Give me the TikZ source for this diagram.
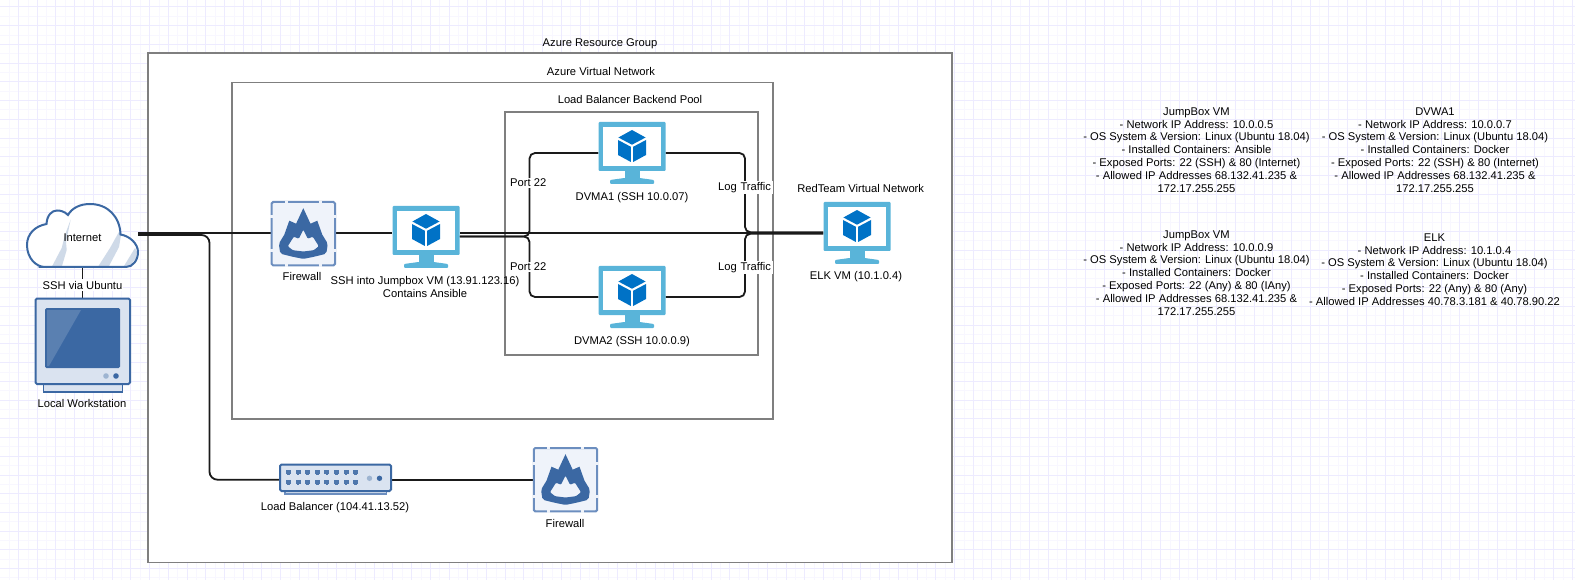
\documentclass[tikz,border=0pt]{standalone}
\usepackage{fontspec}
\setmainfont{Liberation Sans}
\definecolor{gridmajor}{HTML}{EDEBFF}
\definecolor{gridminor}{HTML}{F8F7FF}
\definecolor{boxline}{HTML}{7F7F7F}
\definecolor{wirecol}{HTML}{1A1A1A}
\definecolor{vmframe}{HTML}{59B4D9}
\definecolor{vmcube}{HTML}{0072C6}
\definecolor{azdark}{HTML}{3B68A3}
\definecolor{azedge}{HTML}{6C8EBF}
\definecolor{azbody}{HTML}{DAE3F0}
\definecolor{azpale}{HTML}{EFF3FA}
\definecolor{azstripe}{HTML}{CFDAE8}
\tikzset{
  x=1pt,y=-1pt,
  region/.style={draw=boxline,line width=1.9pt,fill=white},
  wire/.style={draw=wirecol,line width=1.8pt,rounded corners=5.5pt},
  lbl/.style={font=\fontsize{11.2}{12.8}\selectfont,text=black,align=center,inner sep=0pt},
  vmbox/.style={inner sep=0pt,minimum width=67pt,minimum height=62pt},
  fwbox/.style={inner sep=0pt,minimum width=65pt,minimum height=65pt},
  vmicon/.pic={
    \fill[vmframe,rounded corners=1pt] (-33.5,-31) rectangle (33.5,18);
    \fill[white] (-28.8,-26.3) rectangle (28.8,13.3);
    \fill[vmframe] (-7.5,18) rectangle (7.5,27);
    \fill[vmframe,rounded corners=1pt] (-22,27) -- (-7.5,25) -- (7.5,25) -- (22,27) -- (22,31) -- (-22,31) -- cycle;
    \fill[vmcube] (0,-23) -- (13.6,-15.5) -- (0,-8.3) -- (-13.6,-15.5) -- cycle;
    \fill[vmcube] (-14,-13) -- (-1.1,-6.2) -- (-1.1,9) -- (-14,2) -- cycle;
    \fill[vmcube] (14,-13) -- (1.1,-6.2) -- (1.1,9) -- (14,2) -- cycle;
  },
  fwicon/.pic={
    \draw[azedge,fill=azpale,line width=2pt,rounded corners=1.5pt] (-31.7,-31.7) rectangle (31.7,31.7);
    \foreach \s in {-1,1}{
      \draw[azpale,line width=2.6pt] (\s*16.7-1.5,-31.7) -- (\s*16.7+1.5,-31.7);
      \draw[azpale,line width=2.6pt] (\s*16.7-1.5,31.7) -- (\s*16.7+1.5,31.7);
      \draw[azpale,line width=2.6pt] (-31.7,\s*16.7-1.5) -- (-31.7,\s*16.7+1.5);
      \draw[azpale,line width=2.6pt] (31.7,\s*16.7-1.5) -- (31.7,\s*16.7+1.5);
    }
    \fill[azdark,even odd rule]
      (0,-25.5) -- (-7.2,-10) -- (-14,-13) -- (-19,1) [rounded corners=2pt] -- (-24.5,10) -- (-23,20) -- (-11,23) -- (0,25.2) -- (11,23) -- (23,20) -- (24.5,10) [sharp corners] -- (19,1) -- (14,-13) -- (7.2,-10) -- cycle
      [rounded corners=1pt] (0,-4) -- (-4.5,5) -- (-9.5,3) -- (-15.5,12.5) -- (-10.5,16.5) -- (0,17.8) -- (10.5,16.5) -- (15.5,12.5) -- (9.5,3) -- (4.5,5) -- cycle;
  },
}
\begin{document}
\begin{tikzpicture}[x=1pt,y=-1pt]
\useasboundingbox (0,0) rectangle (1575,580);
\fill[white] (0,0) rectangle (1575,580);
% grid
\foreach \k in {0,...,85}{
  \pgfmathsetmacro\gx{18.72*\k+9.36}
  \draw[gridminor,line width=1pt] (\gx,0) -- (\gx,580);
}
\foreach \k in {0,...,31}{
  \pgfmathsetmacro\gy{18.72*\k-2.36}
  \draw[gridminor,line width=1pt] (0,\gy) -- (1575,\gy);
}
\foreach \k in {1,...,85}{
  \pgfmathsetmacro\gx{18.72*\k-0.2}
  \draw[gridmajor,line width=1pt] (\gx,0) -- (\gx,580);
}
\foreach \k in {0,...,31}{
  \pgfmathsetmacro\gy{18.72*\k+7}
  \draw[gridmajor,line width=1pt] (0,\gy) -- (1575,\gy);
}
% regions
\draw[region] (148.3,53) rectangle (952,562.5);
\draw[region] (232.3,82.5) rectangle (772.7,419);
\draw[region] (505,111.7) rectangle (758,355);
% anchors for connectors
\node[inner sep=0pt,minimum width=111pt,minimum height=63pt] (internet) at (82.5,235.5) {};
\node[inner sep=0pt,minimum width=96pt,minimum height=94pt] (station) at (82.5,345) {};
\node[fwbox] (fw1) at (303.3,233.7) {};
\node[fwbox] (fw2) at (565.5,479.7) {};
\node[vmbox] (jump) at (426,237) {};
\node[vmbox] (dvma1) at (632,153) {};
\node[vmbox] (dvma2) at (632,297) {};
\node[vmbox] (elk) at (857,233) {};
\node[inner sep=0pt,minimum width=113pt,minimum height=30pt] (lb) at (335.5,479.7) {};
% connectors
\draw[wire] (internet.south) -- (station.north);
\draw[wire,rounded corners=0pt] ([yshift=2.5pt]internet.east) -- ([yshift=.7pt]fw1.west);
\draw[wire,rounded corners=8pt] ([yshift=0.5pt]internet.east) -- (209.5,235) -- (209.5,479.7) -- (lb.west);
\draw[wire,rounded corners=0pt] ([yshift=.7pt]fw1.east) -- ([yshift=4pt]jump.west);
\draw[wire,rounded corners=0pt] (lb.east) -- (fw2.west);
\draw[wire,rounded corners=0pt] ([yshift=4pt]jump.east) -- (elk.west);
\draw[wire] ([yshift=.5pt]jump.east) -- (529.5,236.5) -- (529.5,153) -- (dvma1.west);
\draw[wire] ([yshift=.5pt]jump.east) -- (529.5,236.5) -- (529.5,297) -- (dvma2.west);
\draw[wire] (dvma1.east) -- (745,153) -- (745,232.3) -- ([yshift=.7pt]elk.west);
\draw[wire] (dvma2.east) -- (745,297) -- (745,233.7) -- ([yshift=-.7pt]elk.west);
% cloud
\fill[white] (38.5,267) -- (126,267) .. controls (133,267) and (138,260) .. (138,252) .. controls (138,244) and (130,236) .. (120.5,234.5) .. controls (120,217) and (108,204) .. (90,204) .. controls (80,204) and (72,208) .. (68,215) .. controls (64,211) and (60,210.5) .. (57,210.5) .. controls (52,210.5) and (47,215) .. (46.5,224) .. controls (35,226) and (27,234) .. (27,245) .. controls (27,258) and (36,267) .. (45,267) -- cycle;
\fill[azstripe] (51.7,267) -- (61.7,248) -- (65,235) -- (70.7,219.5) -- (66,242) -- (66.7,250) -- (61.7,267) -- cycle;
\fill[azstripe] (98.5,266) -- (110,248) -- (120,230) -- (121,235) -- (119,247) -- (109,266) -- cycle;
\fill[azstripe] (124,266) -- (135,248) -- (137,252) -- (136,258) -- (130,266) -- cycle;
\draw[azdark,line width=2pt] (38.5,267) -- (126,267) .. controls (133,267) and (138,260) .. (138,252) .. controls (138,244) and (130,236) .. (120.5,234.5) .. controls (120,217) and (108,204) .. (90,204) .. controls (80,204) and (72,208) .. (68,215) .. controls (64,211) and (60,210.5) .. (57,210.5) .. controls (52,210.5) and (47,215) .. (46.5,224) .. controls (35,226) and (27,234) .. (27,245) .. controls (27,258) and (36,267) .. (45,267) -- cycle;
% workstation
\draw[azdark,line width=1.8pt,fill=azbody] (43.5,384) rectangle (122.5,392);
\draw[azdark,line width=2pt,fill=azbody,rounded corners=1.5pt] (35.5,298.5) rectangle (130,384);
\fill[azdark,rounded corners=1.5pt] (45,308) rectangle (120,368);
\fill[white,opacity=.16] (47,310) -- (81,310) -- (49,366) -- (47,366) -- cycle;
\fill[azdark!50!white] (106,376) circle (2.8);
\fill[azdark] (116,376) circle (2.8);
% load balancer
\draw[azedge,line width=1.5pt,fill=azbody] (285,490) rectangle (386.5,494);
\draw[azdark,line width=2pt,fill=azbody,rounded corners=1.5pt] (280,464.5) rectangle (391,491);
\foreach \i in {0,...,7}{
  \pgfmathsetmacro\px{288.5+9.6*\i}
  \foreach \py in {472.7,482.5}{
    \fill[azdark!90!white] (\px-2.5,\py-2.5) rectangle (\px+2.5,\py+1);
    \fill[azdark!90!white] (\px-1.3,\py+1) rectangle (\px+1.3,\py+2.6);
  }
}
\fill[azdark!50!white] (369.5,478.3) circle (2.7);
\fill[azdark] (379.5,478.3) circle (2.7);
% icons
\pic at (fw1) {fwicon};
\pic at (fw2) {fwicon};
\pic at (jump) {vmicon};
\pic at (dvma1) {vmicon};
\pic at (dvma2) {vmicon};
\pic at (elk) {vmicon};
% labels
\node[lbl] (tInternet) at (82.5,238) {Internet};
\node[lbl,fill=white,inner xsep=1pt,inner ysep=1.5pt] (tSsh) at (82.5,285) {SSH via Ubuntu};
\node[lbl] (tStation) at (82,403) {Local Workstation};
\node[lbl] (tRg) at (600,43.5) {Azure Resource Group};
\node[lbl] (tVnet) at (601,71.5) {Azure Virtual Network};
\node[lbl] (tPool) at (630,99.5) {Load Balancer Backend Pool};
\node[lbl] (tFw1) at (302,276) {Firewall};
\node[lbl] (tFw2) at (565,523) {Firewall};
\node[lbl] (tJump) at (425,287) {SSH into Jumpbox VM (13.91.123.16)\\Contains Ansible};
\node[lbl] (tD1) at (632,198) {DVMA1 (SSH 10.0.07)};
\node[lbl] (tD2) at (632,342) {DVMA2 (SSH 10.0.0.9)};
\node[lbl,fill=white,inner ysep=1pt] (tP1) at (528.3,183) {Port 22};
\node[lbl,fill=white,inner ysep=1pt] (tP2) at (528.3,267) {Port 22};
\node[lbl,fill=white,text width=62pt,align=right,inner xsep=2pt,inner ysep=1.5pt] (tL1) at (740,187.5) {Log Traffic};
\node[lbl,fill=white,text width=62pt,align=right,inner xsep=2pt,inner ysep=1.5pt] (tL2) at (740,267.5) {Log Traffic};
\node[lbl] (tRed) at (860.7,188) {RedTeam Virtual Network};
\node[lbl] (tElk) at (856,277) {ELK VM (10.1.0.4)};
\node[lbl] (tLb) at (335,508) {Load Balancer (104.41.13.52)};
\node[lbl] (info1) at (1196.5,150) {JumpBox VM\\- Network IP Address: 10.0.0.5\\- OS System \& Version: Linux (Ubuntu 18.04)\\- Installed Containers: Ansible\\- Exposed Ports: 22 (SSH) \& 80 (Internet)\\- Allowed IP Addresses 68.132.41.235 \&\\172.17.255.255};
\node[lbl] (info2) at (1435,150) {DVWA1\\- Network IP Address: 10.0.0.7\\- OS System \& Version: Linux (Ubuntu 18.04)\\- Installed Containers: Docker\\- Exposed Ports: 22 (SSH) \& 80 (Internet)\\- Allowed IP Addresses 68.132.41.235 \&\\172.17.255.255};
\node[lbl] (info3) at (1196.5,273) {JumpBox VM\\- Network IP Address: 10.0.0.9\\- OS System \& Version: Linux (Ubuntu 18.04)\\- Installed Containers: Docker\\- Exposed Ports: 22 (Any) \& 80 (IAny)\\- Allowed IP Addresses 68.132.41.235 \&\\172.17.255.255};
\node[lbl] (info4) at (1434.5,269.5) {ELK\\- Network IP Address: 10.1.0.4\\- OS System \& Version: Linux (Ubuntu 18.04)\\- Installed Containers: Docker\\- Exposed Ports: 22 (Any) \& 80 (Any)\\- Allowed IP Addresses 40.78.3.181 \& 40.78.90.22};
\end{tikzpicture}
\end{document}
